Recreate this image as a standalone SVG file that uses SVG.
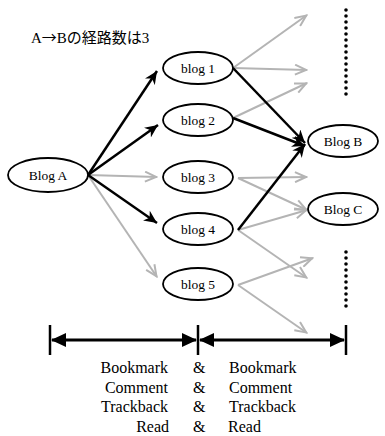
<svg xmlns="http://www.w3.org/2000/svg" width="385" height="436" viewBox="0 0 385 436">
<style>
.node ellipse{fill:#fff;stroke:#000;stroke-width:1.8}
.lbl{font-family:'Liberation Serif','DejaVu Serif',serif;font-size:13.5px;fill:#000;text-anchor:middle}
.bk{stroke:#000;stroke-width:2.5;fill:none}
.gr{stroke:#b4b4b4;stroke-width:2;fill:none}
.txt{font-family:'Liberation Serif','DejaVu Serif',serif;font-size:16px;fill:#000}
.dots{stroke:#000;stroke-width:3.6;stroke-linecap:round;stroke-dasharray:0 6;fill:none}
</style>
<defs>
<marker id="ab" markerUnits="userSpaceOnUse" markerWidth="14" markerHeight="12" refX="13" refY="6" orient="auto">
<path d="M0,0 L13,6 L0,12 L4,6 z" fill="#000"/>
</marker>
<marker id="ag" markerUnits="userSpaceOnUse" markerWidth="14" markerHeight="12" refX="13" refY="6" orient="auto">
<path d="M1,1 L12,6 L1,11" fill="none" stroke="#b4b4b4" stroke-width="2"/>
</marker>
</defs>
<text x="31" y="43" font-family="'Liberation Serif','Noto Sans CJK JP',serif" font-size="15">A<tspan font-family="'Noto Sans CJK JP',sans-serif">→</tspan>Bの経路数は3</text>
<g id="connectors">
<line class="gr" x1="88" y1="175" x2="157" y2="177" marker-end="url(#ag)"/>
<line class="gr" x1="88" y1="175" x2="157" y2="277" marker-end="url(#ag)"/>
<line class="gr" x1="233" y1="68" x2="307" y2="15" marker-end="url(#ag)"/>
<line class="gr" x1="233" y1="68" x2="307" y2="70" marker-end="url(#ag)"/>
<line class="gr" x1="233" y1="118" x2="307" y2="83" marker-end="url(#ag)"/>
<line class="gr" x1="238" y1="178" x2="307" y2="177" marker-end="url(#ag)"/>
<line class="gr" x1="238" y1="178" x2="307" y2="210" marker-end="url(#ag)"/>
<line class="gr" x1="238" y1="230" x2="307" y2="210" marker-end="url(#ag)"/>
<line class="gr" x1="238" y1="230" x2="307" y2="278" marker-end="url(#ag)"/>
<line class="gr" x1="238" y1="285" x2="313" y2="258" marker-end="url(#ag)"/>
<line class="gr" x1="238" y1="285" x2="307" y2="333" marker-end="url(#ag)"/>
<line class="bk" x1="88" y1="175" x2="157" y2="71" marker-end="url(#ab)"/>
<line class="bk" x1="88" y1="175" x2="158" y2="125" marker-end="url(#ab)"/>
<line class="bk" x1="88" y1="175" x2="157" y2="223" marker-end="url(#ab)"/>
<line class="bk" x1="233" y1="68" x2="305" y2="143" marker-end="url(#ab)"/>
<line class="bk" x1="233" y1="118" x2="305" y2="146" marker-end="url(#ab)"/>
<line class="bk" x1="238" y1="230" x2="305" y2="144" marker-end="url(#ab)"/>
</g>
<g id="dots">
<line class="dots" x1="346" y1="10" x2="346" y2="98"/>
<line class="dots" x1="346" y1="252" x2="346" y2="310"/>
</g>
<g id="blogA" class="node"><ellipse cx="48" cy="175" rx="40" ry="17"/><text class="lbl" x="48" y="180">Blog A</text></g>
<g id="blog1" class="node"><ellipse cx="198" cy="68" rx="35" ry="16"/><text class="lbl" x="198" y="73">blog 1</text></g>
<g id="blog2" class="node"><ellipse cx="198" cy="120" rx="35" ry="16"/><text class="lbl" x="198" y="125">blog 2</text></g>
<g id="blog3" class="node"><ellipse cx="198" cy="177" rx="35" ry="16"/><text class="lbl" x="198" y="182">blog 3</text></g>
<g id="blog4" class="node"><ellipse cx="198" cy="229" rx="35" ry="16"/><text class="lbl" x="198" y="234">blog 4</text></g>
<g id="blog5" class="node"><ellipse cx="198" cy="284" rx="35" ry="16"/><text class="lbl" x="198" y="289">blog 5</text></g>
<g id="blogB" class="node"><ellipse cx="343" cy="141" rx="35" ry="16"/><text class="lbl" x="343" y="146">Blog B</text></g>
<g id="blogC" class="node"><ellipse cx="343" cy="209" rx="35" ry="16"/><text class="lbl" x="343" y="214">Blog C</text></g>
<g id="scale">
<line x1="52" y1="340" x2="196" y2="340" stroke="#000" stroke-width="3"/>
<line x1="200" y1="340" x2="344" y2="340" stroke="#000" stroke-width="3"/>
<path d="M51,340 L66,333 L66,347 z M197,340 L182,333 L182,347 z M199,340 L214,333 L214,347 z M345,340 L330,333 L330,347 z" fill="#000"/>
<line x1="50" y1="325" x2="50" y2="355" stroke="#000" stroke-width="2.5"/>
<line x1="198" y1="325" x2="198" y2="355" stroke="#000" stroke-width="2.5"/>
<line x1="346" y1="325" x2="346" y2="355" stroke="#000" stroke-width="2.5"/>
</g>
<g id="labels" class="txt">
<text x="168" y="373" text-anchor="end">Bookmark</text>
<text x="168" y="393" text-anchor="end">Comment</text>
<text x="168" y="412" text-anchor="end">Trackback</text>
<text x="169" y="432" text-anchor="end">Read</text>
<text x="193" y="373">&amp;</text>
<text x="193" y="393">&amp;</text>
<text x="193" y="412">&amp;</text>
<text x="193" y="432">&amp;</text>
<text x="229" y="373">Bookmark</text>
<text x="229" y="393">Comment</text>
<text x="229" y="412">Trackback</text>
<text x="228" y="432">Read</text>
</g>
</svg>
